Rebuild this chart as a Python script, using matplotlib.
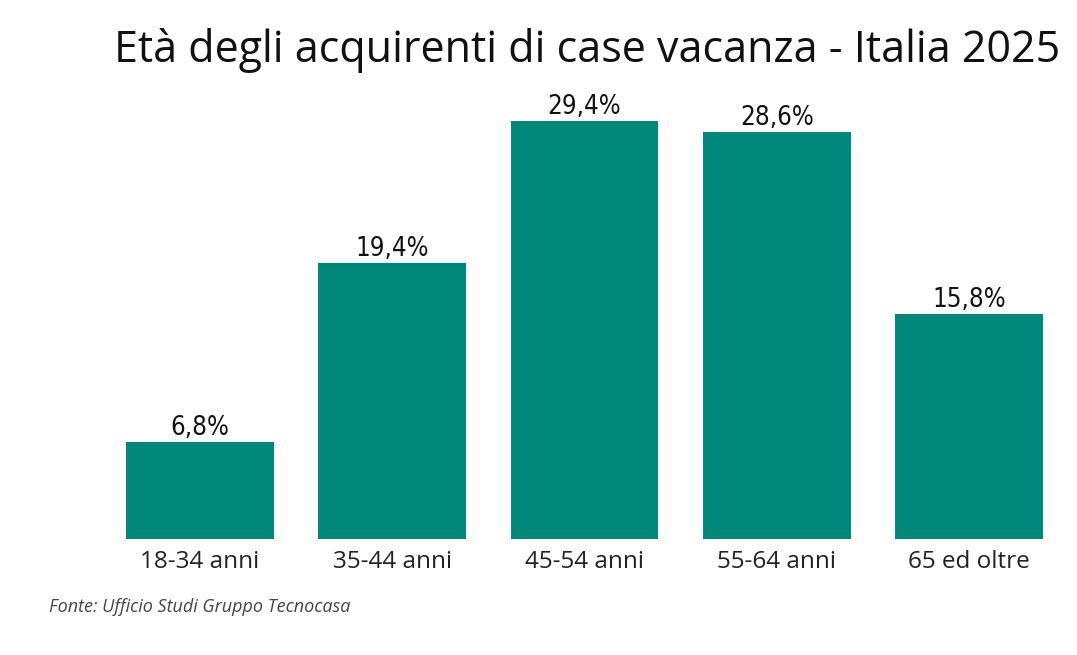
import matplotlib
matplotlib.use("Agg")
import matplotlib.pyplot as plt

categories = ["18-34 anni", "35-44 anni", "45-54 anni", "55-64 anni", "65 ed oltre"]
values = [6.8, 19.4, 29.4, 28.6, 15.8]
labels = ["6,8%", "19,4%", "29,4%", "28,6%", "15,8%"]

W, H = 1077, 655
fig = plt.figure(figsize=(W / 100, H / 100), dpi=100)
ax_left, ax_right = 104 / W, 1065 / W
ax_bottom = (H - 539) / H
ymax = 30.0
ax_top = (H - (539 - ymax * 14.22)) / H
ax = fig.add_axes([ax_left, ax_bottom, ax_right - ax_left, ax_top - ax_bottom])

x = list(range(len(categories)))
bars = ax.bar(x, values, width=0.77, color="#00897B")
ax.set_xlim(-0.5, len(categories) - 0.5)
ax.set_ylim(0, ymax)
for spine in ax.spines.values():
    spine.set_visible(False)
ax.set_yticks([])
ax.set_xticks(x)
ax.set_xticklabels(categories, fontfamily="Open Sans", fontsize=17.5, color="#222222")
ax.tick_params(axis="x", length=0, pad=8)

for xi, v, lab in zip(x, values, labels):
    ax.annotate(lab, (xi, v), xytext=(0, 5), textcoords="offset points",
                ha="center", va="baseline", fontsize=18.5, fontfamily="DejaVu Sans",
                fontstretch="condensed", color="#111111")

fig.text(1060 / W, 1 - 62 / H, "Età degli acquirenti di case vacanza - Italia 2025",
         ha="right", va="baseline", fontfamily="Open Sans", fontsize=31, color="#111111")
fig.text(49 / W, 1 - 612 / H, "Fonte: Ufficio Studi Gruppo Tecnocasa",
         ha="left", va="baseline", fontfamily="Open Sans", fontstyle="italic",
         fontsize=13, color="#444444")

fig.savefig("out.png", dpi=100)
